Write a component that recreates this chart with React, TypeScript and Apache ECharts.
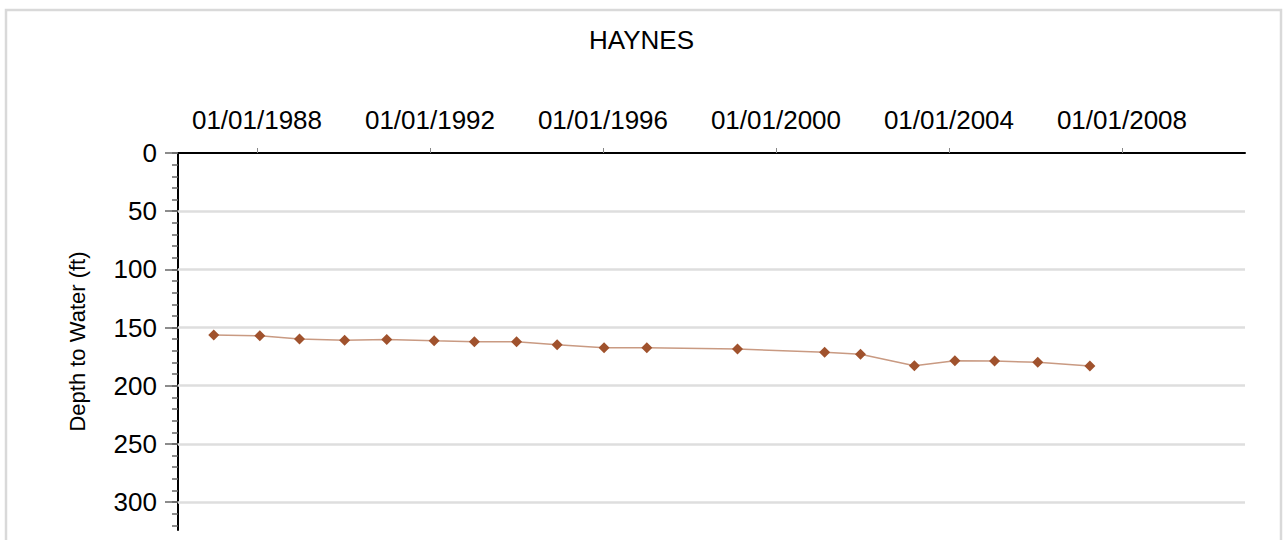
import React, { useEffect, useRef } from "react";
import * as echarts from "echarts";

const titleText = "HAYNES";
const yAxisName = "Depth to Water (ft)";
const dates = [
  "1987-01-01", "1988-01-25", "1988-12-25", "1990-01-10", "1991-01-01",
  "1992-02-05", "1993-01-10", "1994-01-01", "1994-12-10", "1996-01-10",
  "1997-01-05", "1999-02-10", "2001-02-15", "2001-12-15", "2003-03-15",
  "2004-02-20", "2005-01-20", "2006-01-20", "2007-04-05",
];
const depths = [
  156.5, 157.1, 159.9, 161.0, 160.2, 161.4, 162.2, 162.2, 164.8, 167.4,
  167.4, 168.5, 171.3, 173.0, 182.9, 178.5, 178.8, 179.9, 183.1,
];
const xTickDates = ["1988-01-01", "1992-01-01", "1996-01-01", "2000-01-01", "2004-01-01", "2008-01-01"];
const xMinDate = "1986-03-05";
const xMaxDate = "2010-11-05";
const yMajorTicks = [0, 50, 100, 150, 200, 250, 300];
const yMinorTicks = [0, 10, 20, 30, 40, 50, 60, 70, 80, 90, 100, 110, 120, 130, 140, 150, 160, 170, 180, 190, 200, 210, 220, 230, 240, 250, 260, 270, 280, 290, 300, 310, 320];
const yGridLines = [50, 100, 150, 200, 250, 300];
const yMin = 0;
const yMax = 324;

const toMs = (s: string) => {
  const [y, m, d] = s.split("-").map(Number);
  return Date.UTC(y, m - 1, d);
};
const pad = (n: number) => (n < 10 ? "0" + n : "" + n);

export default function App() {
  const ref = useRef<HTMLDivElement>(null);
  useEffect(() => {
    if (!ref.current) return;
    const chart = echarts.init(ref.current, null, { renderer: "svg" });
    const font = "'Liberation Sans', Arial, sans-serif";
    const xTicks = xTickDates.map(toMs);
    chart.setOption({
      animation: false,
      backgroundColor: "#ffffff",
      textStyle: { fontFamily: font },
      title: {
        text: titleText,
        left: "center",
        top: 27,
        padding: 0,
        textStyle: { fontFamily: font, fontSize: 26, fontWeight: "normal", color: "#000" },
      },
      graphic: [
        {
          type: "rect",
          shape: { x: 6, y: 10, width: 1275, height: 600 },
          style: { fill: "none", stroke: "#d9d9d9", lineWidth: 2.5 },
          silent: true,
        },
      ],
      grid: { left: 178, right: 38, top: 153, bottom: 10, containLabel: false },
      xAxis: {
        type: "value",
        position: "top",
        min: toMs(xMinDate),
        max: toMs(xMaxDate),
        axisLine: { show: true, onZero: false, lineStyle: { color: "#000", width: 2 } },
        axisTick: { show: true, customValues: xTicks, length: 5, lineStyle: { color: "#888", width: 1 } },
        axisLabel: {
          customValues: xTicks,
          fontSize: 26,
          fontFamily: font,
          color: "#000",
          margin: 20,
          formatter: (v: number) => {
            const d = new Date(v);
            return pad(d.getUTCMonth() + 1) + "/" + pad(d.getUTCDate()) + "/" + d.getUTCFullYear();
          },
        },
        splitLine: { show: false },
      },
      yAxis: [
        {
          type: "value",
          inverse: true,
          min: yMin,
          max: yMax,
          position: "left",
          axisLine: { show: true, onZero: false, lineStyle: { color: "#000", width: 2 } },
          axisTick: { show: true, customValues: yMinorTicks, length: 6, lineStyle: { color: "#666", width: 1.5 } },
          axisLabel: { show: false },
          splitLine: { show: false },
        },
        {
          type: "value",
          inverse: true,
          min: yMin,
          max: yMax,
          position: "left",
          name: yAxisName,
          nameLocation: "middle",
          nameRotate: 90,
          nameGap: 90,
          nameTextStyle: { fontFamily: font, fontSize: 22, color: "#000" },
          axisLine: { show: false, onZero: false },
          axisTick: { show: true, customValues: yMajorTicks, length: 13, lineStyle: { color: "#666", width: 1.5 } },
          axisLabel: { customValues: yMajorTicks, fontSize: 26, fontFamily: font, color: "#000", margin: 21 },
          splitLine: { show: false },
        },
      ],
      series: [
        {
          type: "line",
          xAxisIndex: 0,
          yAxisIndex: 0,
          data: dates.map((d, i) => [toMs(d), depths[i]]),
          symbol: "diamond",
          symbolSize: 11,
          showAllSymbol: true,
          lineStyle: { color: "#c99a82", width: 1.5 },
          itemStyle: { color: "#a0522d" },
          markLine: {
            silent: true,
            symbol: "none",
            label: { show: false },
            lineStyle: { color: "#dedede", width: 2.5, type: "solid" },
            data: yGridLines.map((v) => ({ yAxis: v })),
            z: 1,
          },
          z: 3,
        },
      ],
    });
    return () => chart.dispose();
  }, []);
  return (
    <div
      ref={ref}
      style={{ position: "absolute", left: 0, top: 0, width: 1283, height: 540 }}
    />
  );
}
